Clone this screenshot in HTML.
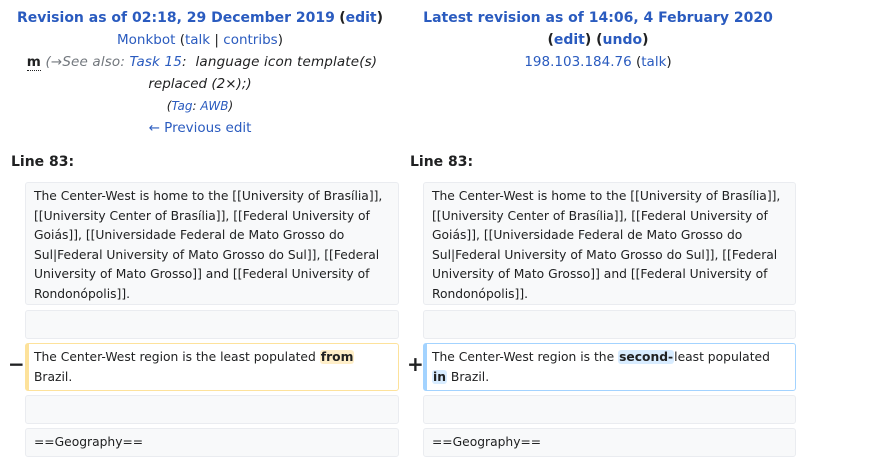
<!DOCTYPE html>
<html><head><meta charset="utf-8"><style>
body{margin:0;width:874px;height:461px;background:#fff;font-family:"DejaVu Sans","Liberation Sans",sans-serif;color:#202122;position:relative;overflow:hidden}
.a{position:absolute}
.hd{text-align:center;font-size:13.5px;line-height:22px}
a,.lk{color:#2a5bbf;text-decoration:none}
.t{font-weight:bold;font-size:14px;color:#202122}
.box{position:absolute;box-sizing:border-box;background:#f8f9fa;border:1px solid #eaecf0;border-radius:3px;font-size:12.3px;line-height:19.5px;padding:4px 8px 0 8px}
.del{background:#fff;border:1px solid #fde29b;border-left:4px solid #fde29b;padding-left:5px}
.ins{background:#fff;border:1px solid #a3d3ff;border-left:4px solid #a3d3ff;padding-left:5px}
.hl1{background:#feeec8;font-weight:bold;border-radius:3px;padding:0 1px}
.hl2{background:#d8ecff;font-weight:bold;border-radius:3px;padding:0 1px}
.mk{position:absolute;font-size:20px;font-weight:bold}
</style></head><body>
<div class="a hd" style="left:0;width:400px;top:7px">
<div><a style="font-weight:bold;font-size:14px">Revision as of 02:18, 29 December 2019</a> <span class="t">(<a>edit</a>)</span></div>
<div><a>Monkbot</a> (<a>talk</a> | <a>contribs</a>)</div>
<div style="padding-left:4px;font-style:italic;letter-spacing:0.15px"><b style="font-style:normal;border-bottom:1px dotted #202122">m</b> <span style="color:#72777d">(→See also: </span><a>Task 15</a>:&nbsp; language icon template(s)</div>
<div style="font-style:italic">replaced (2×);)</div>
<div style="font-style:italic;font-size:12px">(<a>Tag</a>: <a>AWB</a>)</div>
<div><a>← Previous edit</a></div>
</div>
<div class="a hd" style="left:398px;width:400px;top:7px">
<div><a style="font-weight:bold;font-size:14px">Latest revision as of 14:06, 4 February 2020</a></div>
<div class="t">(<a>edit</a>) (<a>undo</a>)</div>
<div><a>198.103.184.76</a> (<a>talk</a>)</div>
</div>
<div class="a t" style="left:11px;top:154px">Line 83:</div>
<div class="a t" style="left:410px;top:154px">Line 83:</div>

<div class="box" style="left:25px;top:182px;width:374px;height:123px">The Center-West is home to the [[University of Brasília]], [[University Center of Brasília]], [[Federal University of Goiás]], [[Universidade Federal de Mato Grosso do Sul|Federal University of Mato Grosso do Sul]], [[Federal University of Mato Grosso]] and [[Federal University of Rondonópolis]].</div>
<div class="box" style="left:423px;top:182px;width:373px;height:123px">The Center-West is home to the [[University of Brasília]], [[University Center of Brasília]], [[Federal University of Goiás]], [[Universidade Federal de Mato Grosso do Sul|Federal University of Mato Grosso do Sul]], [[Federal University of Mato Grosso]] and [[Federal University of Rondonópolis]].</div>
<div class="box" style="left:25px;top:310px;width:374px;height:29px"></div>
<div class="box" style="left:423px;top:310px;width:373px;height:29px"></div>
<div class="mk" style="left:8px;top:352px">−</div>
<div class="mk" style="left:407px;top:352px">+</div>
<div class="box del" style="left:25px;top:343px;width:374px;height:48px">The Center-West region is the least populated <span class="hl1">from</span><br>Brazil.</div>
<div class="box ins" style="left:423px;top:343px;width:373px;height:48px">The Center-West region is the <span class="hl2">second-</span>least populated<br><span class="hl2">in</span> Brazil.</div>
<div class="box" style="left:25px;top:395px;width:374px;height:29px"></div>
<div class="box" style="left:423px;top:395px;width:373px;height:29px"></div>
<div class="box" style="left:25px;top:428px;width:374px;height:29px">==Geography==</div>
<div class="box" style="left:423px;top:428px;width:373px;height:29px">==Geography==</div>
</body></html>
